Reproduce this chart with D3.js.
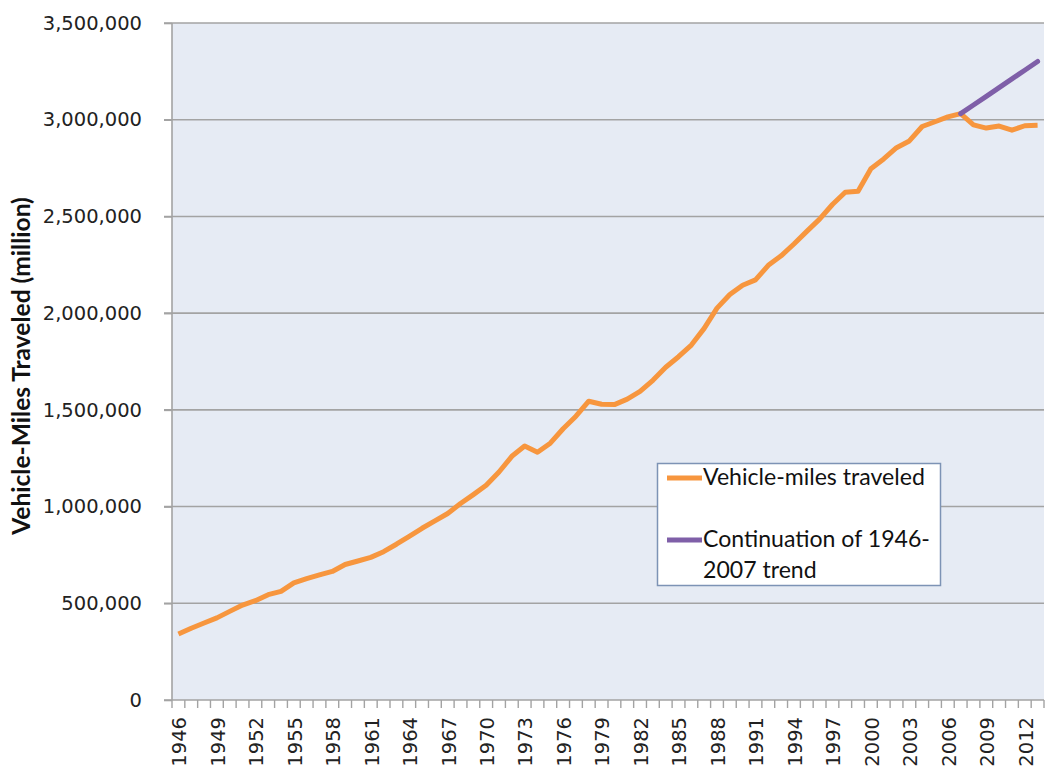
<!DOCTYPE html>
<html>
<head>
<meta charset="utf-8">
<script src="https://cdn.jsdelivr.net/npm/d3@7"></script>
<style>
  body { margin: 0; background: #fff; }
  svg { display: block; }
</style>
</head>
<body>
<svg id="chart"></svg>
<script>
const width = 1047
const height = 767

// categories
const years = [1946, 1947, 1948, 1949, 1950, 1951, 1952, 1953, 1954, 1955,
  1956, 1957, 1958, 1959, 1960, 1961, 1962, 1963, 1964, 1965, 1966, 1967,
  1968, 1969, 1970, 1971, 1972, 1973, 1974, 1975, 1976, 1977, 1978, 1979,
  1980, 1981, 1982, 1983, 1984, 1985, 1986, 1987, 1988, 1989, 1990, 1991,
  1992, 1993, 1994, 1995, 1996, 1997, 1998, 1999, 2000, 2001, 2002, 2003,
  2004, 2005, 2006, 2007, 2008, 2009, 2010, 2011, 2012, 2013]

// vehicle-miles traveled (million)
const vmt = [340880, 370894, 397957, 424461, 458246, 491093, 513581, 544433,
  561963, 605646, 627843, 647004, 664653, 700480, 718762, 737421, 766734,
  805249, 846298, 887812, 925899, 964005, 1015869, 1061791, 1109724, 1178811,
  1259786, 1313110, 1280544, 1327664, 1402380, 1467027, 1544704, 1529133,
  1527295, 1555308, 1595010, 1652788, 1720269, 1774826, 1834872, 1921204,
  2025962, 2096487, 2144362, 2172050, 2247151, 2296378, 2357588, 2422696,
  2485848, 2561695, 2625000, 2630000, 2746925, 2797287, 2855508, 2890221,
  2964788, 2989430, 3014371, 3031124, 2973509, 2956764, 2967266, 2946131,
  2968815, 2971000]

// continuation of 1946-2007 trend
const trendYears = [2007, 2008, 2009, 2010, 2011, 2012, 2013]
const trend = [3031124, 3076000, 3121000, 3166000, 3211000, 3256000, 3301000]

const yTicks = [0, 500000, 1000000, 1500000, 2000000, 2500000, 3000000, 3500000]
const labelYears = years.filter((d, i) => i % 3 === 0)

const svg = d3.select('#chart').attr('width', width).attr('height', height)

const pLeft = 172
const pRight = 1044
const pTop = 23
const pBottom = 700

const x = d3.scaleBand().domain(years).range([pLeft, pRight])
const y = d3.scaleLinear().domain([0, 3500000]).range([pBottom, pTop])
const cx = (d) => x(d) + x.bandwidth() / 2

// shrink/grow a text's font so that it spans a given width
function fitText(sel, target) {
  const base = +sel.attr('font-size')
  const len = sel.node().getComputedTextLength()
  if (len > 0) sel.attr('font-size', base * target / len)
}

// plot background
svg.append('rect')
  .attr('x', pLeft).attr('y', pTop)
  .attr('width', pRight - pLeft).attr('height', pBottom - pTop)
  .attr('fill', '#e6ebf4')

// gridlines
svg.append('g')
  .selectAll('line')
  .data(yTicks.slice(1))
  .join('line')
  .attr('x1', pLeft - 8).attr('x2', pRight)
  .attr('y1', (d) => y(d)).attr('y2', (d) => y(d))
  .attr('stroke', '#a3a3a3')
  .attr('stroke-width', 1.6)

const yAxis = svg.append('g')
  .attr('transform', `translate(${pLeft},0)`)
  .call(d3.axisLeft(y).tickValues(yTicks).tickSize(8).tickPadding(22)
    .tickFormat(d3.format(',')))
yAxis.select('.domain').remove()
yAxis.selectAll('line').attr('stroke', '#a3a3a3').attr('stroke-width', 1.6)
yAxis.selectAll('text')
  .attr('font-family', 'DejaVu Sans')
  .attr('font-size', 19.5)
  .attr('fill', '#222')

// axis lines
svg.append('line')
  .attr('x1', pLeft).attr('x2', pLeft).attr('y1', pTop).attr('y2', pBottom)
  .attr('stroke', '#a3a3a3').attr('stroke-width', 1.6)
svg.append('line')
  .attr('x1', pLeft - 8).attr('x2', pRight).attr('y1', pBottom).attr('y2', pBottom)
  .attr('stroke', '#a3a3a3').attr('stroke-width', 1.6)

// x minor ticks at category boundaries
svg.append('g')
  .selectAll('line')
  .data(years.concat(['end']))
  .join('line')
  .attr('x1', (d) => d === 'end' ? pRight : x(d))
  .attr('x2', (d) => d === 'end' ? pRight : x(d))
  .attr('y1', pBottom).attr('y2', pBottom + 8)
  .attr('stroke', '#a3a3a3').attr('stroke-width', 1.4)

// x labels
svg.append('g')
  .selectAll('text')
  .data(labelYears)
  .join('text')
  .attr('transform', (d) => `translate(${cx(d) + 1},${pBottom + 17}) rotate(-90)`)
  .attr('text-anchor', 'end')
  .attr('dy', '0.35em')
  .attr('font-family', 'DejaVu Sans')
  .attr('font-size', 19.5)
  .attr('fill', '#222')
  .text((d) => d)

// y title
const yTitle = svg.append('text')
  .attr('transform', `translate(30,${366}) rotate(-90)`)
  .attr('text-anchor', 'middle')
  .attr('font-family', 'Lato')
  .attr('font-weight', 'bold')
  .attr('font-size', 20)
  .attr('fill', '#111')
  .text('Vehicle-Miles Traveled (million)')
fitText(yTitle, 338)

// lines
const line = d3.line().x((d) => cx(d[0])).y((d) => y(d[1]))

svg.append('path')
  .datum(years.map((d, i) => [d, vmt[i]]))
  .attr('d', line)
  .attr('fill', 'none')
  .attr('stroke', '#f7963e')
  .attr('stroke-width', 5)
  .attr('stroke-linejoin', 'round')

svg.append('path')
  .datum(trendYears.map((d, i) => [d, trend[i]]))
  .attr('d', line)
  .attr('fill', 'none')
  .attr('stroke', '#7f5fa8')
  .attr('stroke-width', 5)
  .attr('stroke-linecap', 'round')

// legend
const legend = svg.append('g')
legend.append('rect')
  .attr('x', 657.5).attr('y', 463.5)
  .attr('width', 283).attr('height', 122)
  .attr('fill', '#fff')
  .attr('stroke', '#7d93b5')
  .attr('stroke-width', 1.5)

const legendItems = [
  { color: '#f7963e', ly: 478, lines: ['Vehicle-miles traveled'] },
  { color: '#7f5fa8', ly: 540, lines: ['Continuation of 1946-', '2007 trend'] },
]
let legendSize = 20
legendItems.forEach((item, k) => {
  legend.append('line')
    .attr('x1', 667).attr('x2', 702)
    .attr('y1', item.ly).attr('y2', item.ly)
    .attr('stroke', item.color).attr('stroke-width', 5)
  const t = legend.append('text')
    .attr('font-family', 'Lato')
    .attr('font-size', legendSize)
    .attr('fill', '#111')
  item.lines.forEach((s, i) => {
    t.append('tspan')
      .attr('x', 703)
      .attr('y', item.ly + 7 + i * 31)
      .text(s)
  })
  if (k === 0) {
    fitText(t, 222)
    legendSize = +t.attr('font-size')
  }
})
</script>
</body>
</html>
